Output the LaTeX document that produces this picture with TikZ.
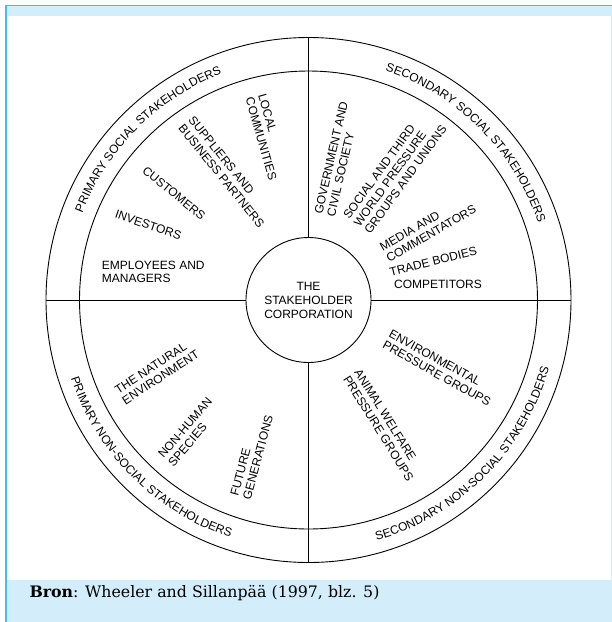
\documentclass[tikz,border=0pt]{standalone}
\usepackage{fontspec}
\newfontfamily\lab{Liberation Sans}
\newfontfamily\capserif{DejaVu Serif}
\usetikzlibrary{decorations.text}
\definecolor{bandblue}{RGB}{211,238,250}
\definecolor{edgeblue}{RGB}{64,190,240}
\newcommand{\ringfont}{\lab\fontsize{12}{14}\selectfont}
\begin{document}
\begin{tikzpicture}[x=1pt,y=1pt,
  lbl/.style={font=\lab\fontsize{12}{13}\selectfont, inner sep=0pt, align=left},
  rim/.style={circle, draw=black, line width=0.9pt, inner sep=0pt},
  conn/.style={draw=black, line width=0.9pt},
  ringtext/.style={decorate, decoration={text along path, text align=center, text={|\ringfont|#1}}}]
\useasboundingbox (0,0) rectangle (612,-622);
% frame
\fill[bandblue] (5,-5) rectangle (612,-16);
\fill[bandblue] (5,-580) rectangle (612,-622);
\fill[bandblue] (611,-5) rectangle (612,-622);
\draw[edgeblue, line width=1.5pt] (5,-5.5) -- (612,-5.5);
\draw[edgeblue, line width=2pt] (6,-5) -- (6,-622);
% circles
\coordinate (C) at (308.5,-300);
\node[rim, minimum size=525pt] (outer) at (C) {};
\node[rim, minimum size=458pt] (ring) at (C) {};
\node[rim, minimum size=125pt, font=\lab\fontsize{12}{14}\selectfont, align=center] (corp) at (C) {THE\\STAKEHOLDER\\CORPORATION};
\draw[conn] (corp.north) -- (outer.north);
\draw[conn] (corp.south) -- (outer.south);
\draw[conn] (corp.west) -- (outer.west);
\draw[conn] (corp.east) -- (outer.east);
% ring labels
\path[ringtext={PRIMARY SOCIAL STAKEHOLDERS}] (C) ++(180:242) arc[start angle=180, end angle=90, radius=242];
\path[ringtext={SECONDARY SOCIAL STAKEHOLDERS}] (C) ++(90:242) arc[start angle=90, end angle=0, radius=242];
\path[ringtext={PRIMARY NON-SOCIAL STAKEHOLDERS}] (C) ++(180:250) arc[start angle=180, end angle=270, radius=250];
\path[ringtext={SECONDARY NON-SOCIAL STAKEHOLDERS}] (C) ++(270:250) arc[start angle=270, end angle=360, radius=250];
% primary social
\node[lbl, rotate=-74] (local) at (267.5,-137) {LOCAL\\COMMUNITIES};
\node[lbl, rotate=-51] (suppl) at (226.5,-172) {SUPPLIERS AND\\BUSINESS PARTNERS};
\node[lbl, rotate=-39] (cust) at (174,-193.3) {CUSTOMERS};
\node[lbl, rotate=-19] (inv) at (148.3,-225) {INVESTORS};
\node[lbl, anchor=west] (empl) at (101.7,-272) {EMPLOYEES AND\\MANAGERS};
% secondary social
\node[lbl, rotate=77] (gov) at (337.5,-159) {GOVERNMENT AND\\CIVIL SOCIETY};
\node[lbl, rotate=54] (soc) at (395,-172) {SOCIAL AND THIRD\\WORLD PRESSURE\\GROUPS AND UNIONS};
\node[lbl, rotate=30] (media) at (428,-228) {MEDIA AND\\COMMENTATORS};
\node[lbl, rotate=14] (trade) at (433.3,-261.7) {TRADE BODIES};
\node[lbl] (comp) at (438,-284.7) {COMPETITORS};
% primary non-social
\node[lbl, rotate=33] (nat) at (157,-372) {THE NATURAL\\ENVIRONMENT};
\node[lbl, rotate=49] (nonh) at (190,-432) {NON-HUMAN\\SPECIES};
\node[lbl, rotate=75] (fut) at (251.7,-455.7) {FUTURE\\GENERATIONS};
% secondary non-social
\node[lbl, rotate=-29] (envpg) at (440,-368) {ENVIRONMENTAL\\PRESSURE GROUPS};
\node[lbl, rotate=-58] (anim) at (384,-425) {ANIMAL WELFARE\\PRESSURE GROUPS};
% caption
\node[anchor=base west, inner sep=0pt, font=\capserif\fontsize{15.8}{18}\selectfont] (cap) at (29.3,-597.3) {\textbf{Bron}: Wheeler and Sillanpää (1997, blz. 5)};
\end{tikzpicture}
\end{document}
